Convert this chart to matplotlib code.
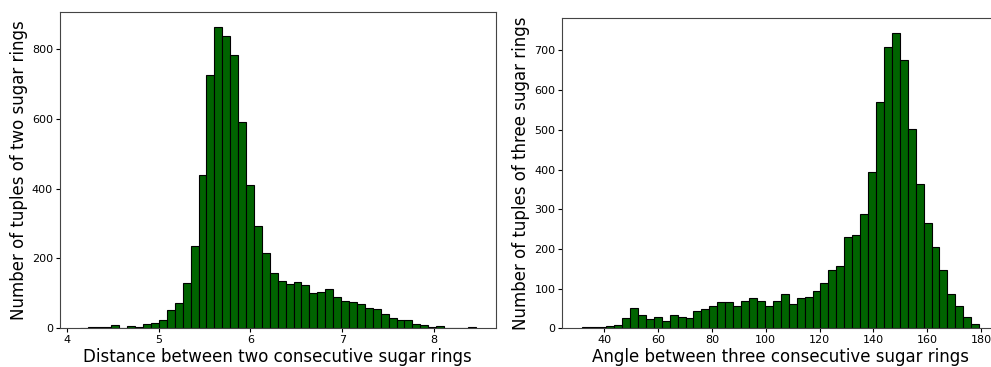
import numpy as np
import matplotlib
matplotlib.use('Agg')
import matplotlib.pyplot as plt

# histogram counts (50 bins each)
dist_range = (4.14, 8.455)
dist_counts = [2, 5, 5, 5, 10, 0, 7, 4, 13, 16,
               23, 52, 72, 131, 237, 440, 727, 864, 838, 782,
               590, 410, 294, 216, 158, 136, 126, 132, 123, 100,
               104, 113, 90, 79, 74, 71, 58, 54, 40, 30,
               24, 24, 12, 10, 4, 7, 1, 1, 0, 4]

angle_range = (31.9, 179.3)
angle_counts = [2, 2, 3, 5, 8, 26, 52, 34, 23, 29,
                18, 34, 29, 26, 43, 48, 56, 66, 65, 56,
                70, 76, 68, 55, 70, 87, 61, 76, 78, 94,
                113, 146, 156, 230, 235, 289, 395, 569, 710, 744,
                676, 501, 363, 265, 204, 146, 86, 57, 28, 12]

xlabels = ['Distance between two consecutive sugar rings',
           'Angle between three consecutive sugar rings']
ylabels = ['Number of tuples of two sugar rings',
           'Number of tuples of three sugar rings']

fig = plt.figure(figsize=(9.91, 3.67), dpi=100)
ax1 = fig.add_axes([0.0605, 0.1055, 0.4395, 0.8627])
ax2 = fig.add_axes([0.5676, 0.1055, 0.4405, 0.8447])


def draw_hist(ax, rng, counts, xlab, ylab):
    counts = np.array(counts)
    edges = np.linspace(rng[0], rng[1], len(counts) + 1)
    ax.bar(edges[:-1], counts, width=np.diff(edges), align='edge',
           color='darkgreen', edgecolor='black', linewidth=0.8)
    ax.set_xlabel(xlab, fontsize=12, labelpad=2)
    ax.set_ylabel(ylab, fontsize=12, labelpad=3)
    ax.tick_params(labelsize=8, length=3, pad=2)
    for s in ax.spines.values():
        s.set_color('#444444')


draw_hist(ax1, dist_range, dist_counts, xlabels[0], ylabels[0])
draw_hist(ax2, angle_range, angle_counts, xlabels[1], ylabels[1])
ax1.set_xticks([4, 5, 6, 7, 8])
ax2.set_xticks([40, 60, 80, 100, 120, 140, 160, 180])

fig.savefig('out.png', dpi=100)
